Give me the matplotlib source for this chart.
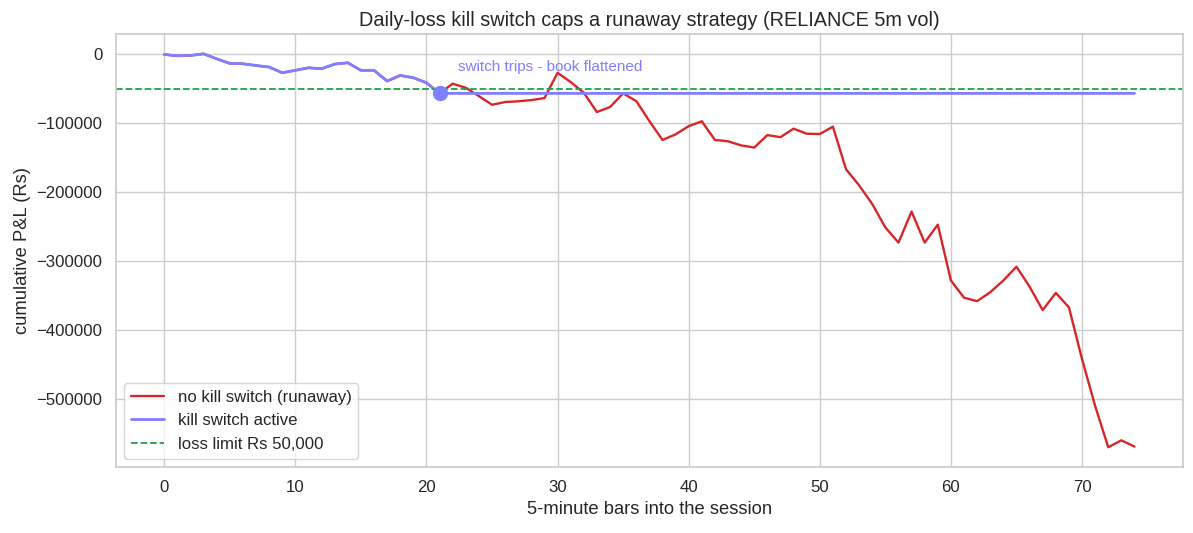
import matplotlib
matplotlib.use("Agg")
import matplotlib.pyplot as plt
import seaborn as sns
import numpy as np

sns.set_theme(style="whitegrid")
plt.rcParams["font.family"] = ["Liberation Sans", "DejaVu Sans"]

# cumulative P&L per 5-minute bar, no kill switch
pnl_runaway = [0, -2000, -1500, 1000, -6300, -13000, -13500, -16000, -18300, -26500,
               -23000, -19300, -20700, -14000, -12000, -23000, -23000, -38600, -30400, -33800,
               -41000, -56500, -42500, -48300, -60400, -73000, -69000, -68000, -66200, -63300,
               -26600, -40000, -55600, -83500, -76300, -56500, -67600, -96600, -124000, -116000,
               -104000, -97000, -124000, -126000, -132000, -135000, -117000, -120000, -107700, -115000,
               -115400, -104800, -166600, -190000, -217000, -251000, -273000, -228000, -273000, -247000,
               -328000, -353000, -358000, -345000, -328000, -308000, -337000, -371000, -346000, -367000,
               -442000, -510000, -570000, -560000, -569000]
bars = np.arange(len(pnl_runaway))
trip_bar = 21
loss_limit = 50000

pnl_kill = list(pnl_runaway[:trip_bar + 1]) + [pnl_runaway[trip_bar]] * (len(pnl_runaway) - trip_bar - 1)

fig, ax = plt.subplots(figsize=(11.93, 5.33), dpi=100)
fig.subplots_adjust(left=0.097, right=0.9916, top=0.936, bottom=0.124)
ax.plot(bars, pnl_runaway, color="#d62728", lw=1.7, label="no kill switch (runaway)")
ax.plot(bars, pnl_kill, color="#7f7fff", lw=2.0, label="kill switch active")
ax.axhline(-loss_limit, color="#22a04a", ls="--", lw=1.3, label="loss limit Rs 50,000")
ax.scatter([trip_bar], [pnl_kill[trip_bar]], s=100, color="#7f7fff", zorder=5)
ax.annotate("switch trips - book flattened", (trip_bar, pnl_kill[trip_bar]),
            xytext=(trip_bar + 1.4, pnl_kill[trip_bar] + 33000),
            color="#7f7fff", fontsize=11)

ax.set_title("Daily-loss kill switch caps a runaway strategy (RELIANCE 5m vol)", fontsize=14.3)
ax.set_xlabel("5-minute bars into the session", fontsize=13.2)
ax.set_ylabel("cumulative P&L (Rs)", fontsize=13.2)
ax.tick_params(labelsize=12.1)
ax.legend(loc="lower left", fontsize=12.1)

fig.savefig("out.png", dpi=100)
